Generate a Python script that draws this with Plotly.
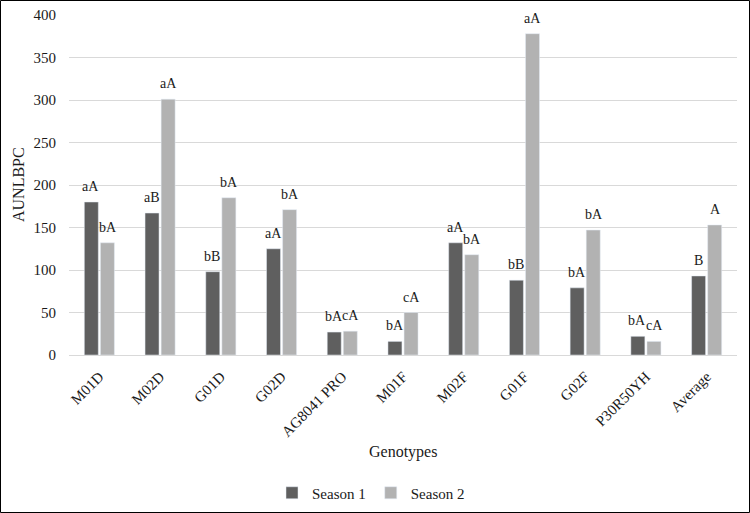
import plotly.graph_objects as go

genotypes = ["M01D", "M02D", "G01D", "G02D", "AG8041 PRO", "M01F", "M02F", "G01F", "G02F", "P30R50YH", "Average"]
season1 = [180, 167, 98, 125, 27, 16, 132, 88, 79, 22, 93]
season2 = [132, 301, 185, 171, 28, 50, 118, 378, 147, 16, 153]
labels1 = ["aA", "aB", "bB", "aA", "bA", "bA", "aA", "bB", "bA", "bA", "B"]
labels2 = ["bA", "aA", "bA", "bA", "cA", "cA", "bA", "aA", "bA", "cA", "A"]

FONT = "Liberation Serif"
TXT = "#1a1a1a"

fig = go.Figure()
fig.add_trace(go.Bar(x=genotypes, y=season1, name="Season 1", marker_color="#5f5f5f"))
fig.add_trace(go.Bar(x=genotypes, y=season2, name="Season 2", marker_color="#b2b2b2"))

L, R, T, B = 69, 13, 15, 158
W, H = 750, 513
pw, ph = W - L - R, H - T - B

def px(x):
    return (x - L) / pw

def py(y):
    return (H - B - y) / ph

annotations = []
for series, labels, dx in ((season1, labels1, -8.5), (season2, labels2, 8.5)):
    for g, v, t in zip(genotypes, series, labels):
        annotations.append(dict(x=g, y=v, text=t, xref="x", yref="y", showarrow=False,
                                xanchor="center", yanchor="bottom", xshift=dx, yshift=6,
                                font=dict(family=FONT, size=14, color=TXT)))

annotations += [
    dict(text="Genotypes", xref="paper", yref="paper", x=0.5, y=py(452),
         showarrow=False, font=dict(family=FONT, size=16, color=TXT),
         xanchor="center", yanchor="middle"),
    dict(text="AUNLBPC", xref="paper", yref="paper", x=px(18), y=py(185),
         showarrow=False, textangle=-90, font=dict(family=FONT, size=16, color=TXT),
         xanchor="center", yanchor="middle"),
]

fig.update_layout(
    width=W, height=H,
    margin=dict(l=L, r=R, t=T, b=B, autoexpand=False),
    paper_bgcolor="white", plot_bgcolor="white",
    font=dict(family=FONT, size=15, color=TXT),
    barmode="group", bargap=0.47, bargroupgap=0.13,
    showlegend=True,
    legend=dict(orientation="h", x=px(371), xanchor="center", y=py(493), yanchor="middle",
                font=dict(family=FONT, size=15, color=TXT), itemwidth=30),
    xaxis=dict(tickangle=-45, showgrid=False, showline=True, linecolor="#d9d9d9", automargin=False,
               ticklabelstandoff=6,
               tickfont=dict(family=FONT, size=15, color=TXT), ticks=""),
    yaxis=dict(range=[0, 400], dtick=50, showgrid=True, gridcolor="#d9d9d9", zeroline=False,
               automargin=False, ticklabelstandoff=12,
               tickfont=dict(family=FONT, size=15, color=TXT)),
    annotations=annotations,
    shapes=[dict(type="rect", xref="paper", yref="paper", x0=px(0.5), x1=px(749.5),
                 y0=py(512.5), y1=py(0.5), line=dict(color="black", width=1), layer="above")],
)

fig.write_html("out.html", config={"displayModeBar": False},
               post_script="document.body.style.margin='0';document.body.style.overflow='hidden';")
